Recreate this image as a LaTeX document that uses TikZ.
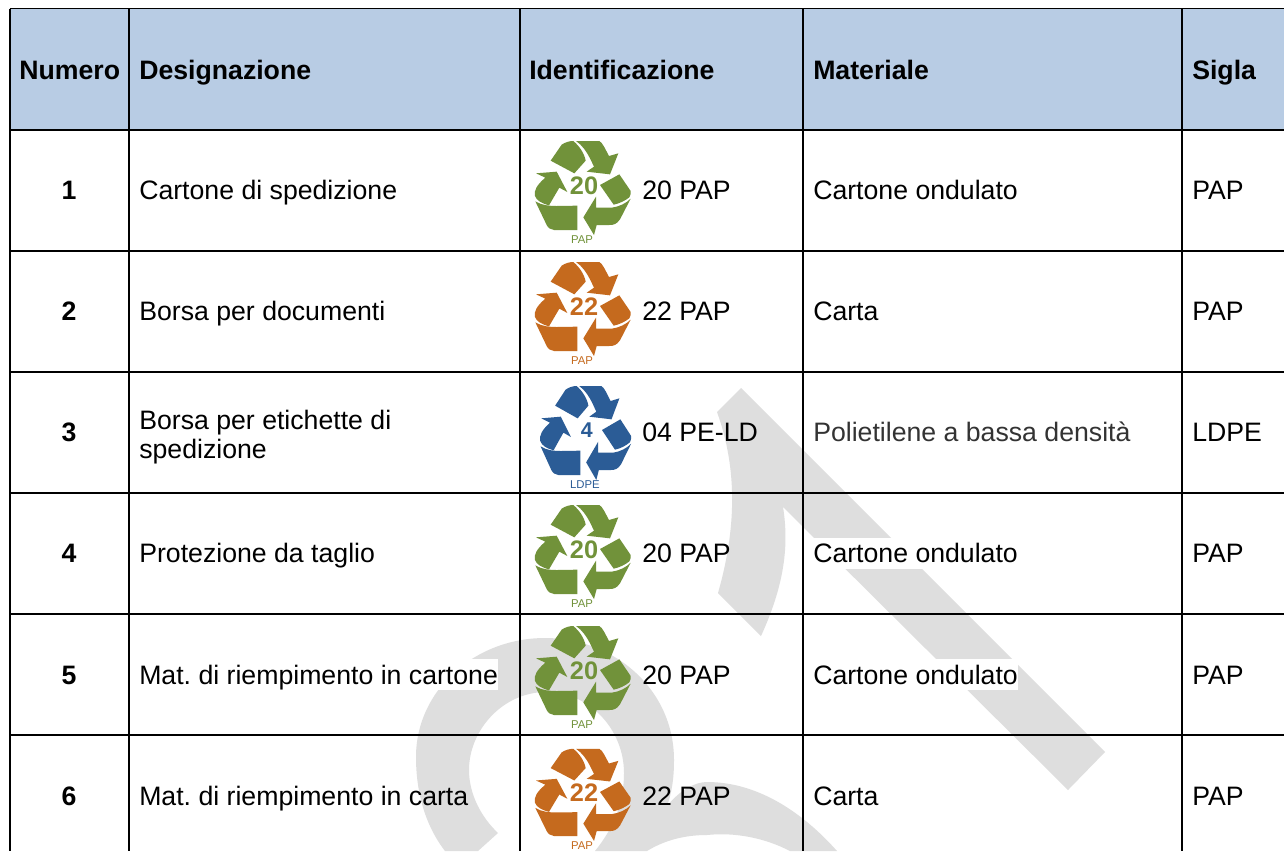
\documentclass[tikz,border=0pt]{standalone}
\usepackage{fontspec}
\setmainfont{Liberation Sans}
\frenchspacing
\definecolor{hdr}{HTML}{B8CCE4}
\definecolor{wm}{HTML}{DEDEDE}
\definecolor{lgreen}{HTML}{71923A}
\definecolor{lorange}{HTML}{C56A1E}
\definecolor{lblue}{HTML}{2B5C96}
\definecolor{dtext}{HTML}{333333}
\tikzset{
  celltext/.style={anchor=base west,inner sep=0pt,font=\fontsize{20}{22.5}\selectfont},
  headtext/.style={celltext,font=\fontsize{20}{22.5}\selectfont\bfseries},
  numtext/.style={anchor=base,inner sep=0pt,font=\fontsize{20}{22.5}\selectfont\bfseries},
  rule/.style={draw=black,line width=1.5pt},
  thinrule/.style={draw=black,line width=0.9pt},
  erase/.style={fill=white,draw=none}
}
% #1 name, #2 x, #3 y, #4 xscale, #5 yscale, #6 colour, #7 number, #8 number size, #9 caption
\newcommand\recyclelogo[9]{%
\begin{scope}[shift={(#2,#3)},x=#4*0.25pt,y=-#5*0.25pt]
\fill[#6] (92,92) -- (125,44) .. controls (135,37) and (148,33) .. (160,33) .. controls (178,48) and (193,70) .. (197,92) -- (163,130) -- cycle;
\fill[#6] (168,33) -- (238,33) .. controls (248,38) and (256,58) .. (267,78) -- (295,70) -- (270,133) -- (200,125) -- (222,110) -- (210,85) .. controls (200,65) and (186,45) .. (168,33) -- cycle;
\fill[#6] (240,165) -- (298,133) -- (332,183) .. controls (333,190) and (331,197) .. (328,202) .. controls (315,212) and (300,220) .. (281,224) -- cycle;
\fill[#6] (190,262) -- (228,200) -- (228,233) -- (275,233) .. controls (298,230) and (318,220) .. (332,206) -- (300,268) .. controls (290,282) and (282,285) .. (268,285) -- (230,285) -- (222,315) -- cycle;
\fill[#6] (46,214) .. controls (65,226) and (88,228) .. (110,228) -- (172,227) -- (172,300) -- (102,300) .. controls (92,298) and (85,295) .. (80,285) -- cycle;
\fill[#6] (48,130) -- (110,125) -- (142,186) -- (118,173) -- (87,226) .. controls (65,220) and (50,212) .. (45,198) .. controls (41,182) and (50,165) .. (76,143) -- cycle;
\node[inner sep=0pt,text=#6,font=\fontsize{#8}{#8}\selectfont\bfseries] (#1num) at (192,166) {#7};
\node[inner sep=0pt,text=#6,font=\fontsize{8.5}{8.5}\selectfont] (#1cap) at (186,330) {#9};
\end{scope}}
\begin{document}
\begin{tikzpicture}[x=0.75pt,y=-0.75pt]
\useasboundingbox (0,0) rectangle (1284,851);
\fill[white] (0,0) rectangle (1284,851);
\fill[hdr] (9.5,9) rectangle (1284,130);
% watermark
\fill[wm] (741,388) -- (1105,752) -- (1068,790) -- (783,507)
  .. controls (790,550) and (782,590) .. (761,636) -- (718,593)
  .. controls (736,530) and (738,470) .. (717,412) -- cycle;
\fill[wm] (445,851) .. controls (425,825) and (416,792) .. (416,757)
  .. controls (416,690) and (475,638) .. (545,638)
  .. controls (615,638) and (674,690) .. (674,760)
  .. controls (674,778) and (672,792) .. (667,806)
  .. controls (680,790) and (695,782) .. (707,782)
  .. controls (760,782) and (805,815) .. (837,851) -- (790,851)
  .. controls (765,838) and (735,832) .. (707,835)
  .. controls (685,835) and (665,840) .. (647,851) -- (595,851)
  .. controls (612,830) and (624,805) .. (624,773)
  .. controls (624,730) and (590,692) .. (546,692)
  .. controls (503,692) and (469,730) .. (469,770)
  .. controls (469,795) and (482,818) .. (498,833) -- (478,851) -- cycle;
% white text highlights
\fill[erase] (813,538) rectangle (1018,569);
\fill[erase] (813,659) rectangle (1018,690);
\fill[erase] (139,659) rectangle (498,690);
% rules
\draw[thinrule] (9.5,8.7) -- (1284,8.7);
\foreach \yy in {130,251,372,493,614,735} \draw[rule] (9.5,\yy) -- (1284,\yy);
\foreach \xx in {10,129,520,803,1182} {
  \draw[thinrule] (\xx,8.7) -- (\xx,17);
  \draw[rule] (\xx,17) -- (\xx,851);
}
% header
\node[numtext] (h1) at (69.7,79.5) {Numero};
\node[headtext] (h2) at (139,79.5) {Designazione};
\node[headtext] (h3) at (529,79.5) {Identificazione};
\node[headtext] (h4) at (813,79.5) {Materiale};
\node[headtext] (h5) at (1192,79.5) {Sigla};
% row 1
\node[numtext] (n1) at (69,199) {1};
\node[celltext] (d1) at (139,199) {Cartone di spedizione};
\recyclelogo{l1}{520}{130}{1}{1}{lgreen}{20}{19}{PAP}
\node[celltext] (i1) at (642,199) {20 PAP};
\node[celltext] (m1) at (813,199) {Cartone ondulato};
\node[celltext] (s1) at (1192,199) {PAP};
% row 2
\node[numtext] (n2) at (69,320.5) {2};
\node[celltext] (d2) at (139,320.5) {Borsa per documenti};
\recyclelogo{l2}{520}{251}{1}{1}{lorange}{22}{19}{PAP}
\node[celltext] (i2) at (642,320.5) {22 PAP};
\node[celltext] (m2) at (813,320.5) {Carta};
\node[celltext] (s2) at (1192,320.5) {PAP};
% row 3
\node[numtext] (n3) at (69,441.7) {3};
\node[anchor=west,align=left,inner sep=0pt,font=\fontsize{20}{22}\selectfont] (d3) at (139,437) {Borsa per etichette di\\spedizione};
\recyclelogo{l3}{526}{375}{0.95}{1}{lblue}{4}{16}{LDPE}
\node[celltext] (i3) at (642,441.7) {04 PE-LD};
\node[celltext,text=dtext] (m3) at (813,441.7) {Polietilene a bassa densità};
\node[celltext] (s3) at (1192,441.7) {LDPE};
% row 4
\node[numtext] (n4) at (69,562.7) {4};
\node[celltext] (d4) at (139,562.7) {Protezione da taglio};
\recyclelogo{l4}{520}{494}{1}{1}{lgreen}{20}{19}{PAP}
\node[celltext] (i4) at (642,562.7) {20 PAP};
\node[celltext] (m4) at (813,562.7) {Cartone ondulato};
\node[celltext] (s4) at (1192,562.7) {PAP};
% row 5
\node[numtext] (n5) at (69,684) {5};
\node[celltext] (d5) at (139,684) {Mat. di riempimento in cartone};
\recyclelogo{l5}{520}{615}{1}{1}{lgreen}{20}{19}{PAP}
\node[celltext] (i5) at (642,684) {20 PAP};
\node[celltext] (m5) at (813,684) {Cartone ondulato};
\node[celltext] (s5) at (1192,684) {PAP};
% row 6
\node[numtext] (n6) at (69,805.7) {6};
\node[celltext] (d6) at (139,805.7) {Mat. di riempimento in carta};
\recyclelogo{l6}{520}{738}{1}{0.98}{lorange}{22}{19}{PAP}
\node[celltext] (i6) at (642,805.7) {22 PAP};
\node[celltext] (m6) at (813,805.7) {Carta};
\node[celltext] (s6) at (1192,805.7) {PAP};
\end{tikzpicture}
\end{document}
